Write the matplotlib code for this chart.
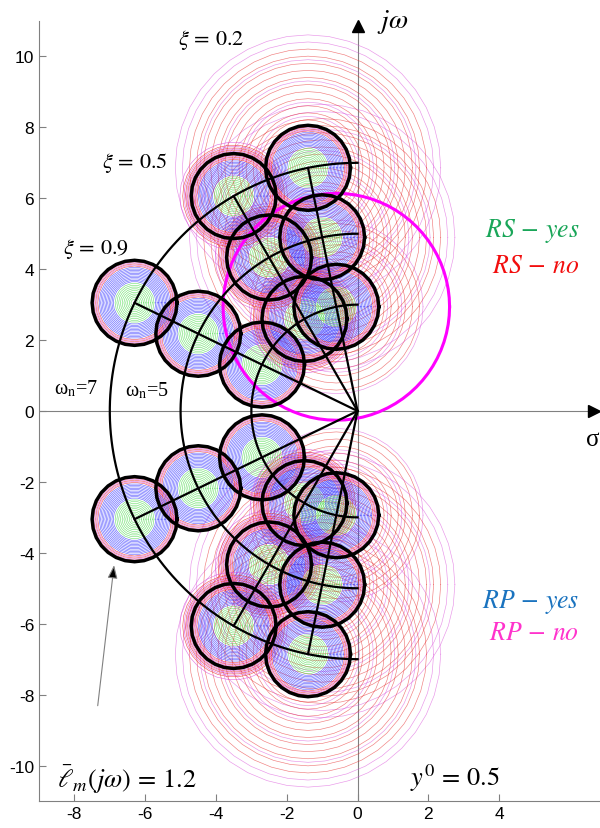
import numpy as np
import matplotlib.pyplot as plt

plt.rcParams['font.family'] = ['Liberation Sans', 'DejaVu Sans']
plt.rcParams['mathtext.fontset'] = 'stix'
plt.rcParams['axes.unicode_minus'] = False

# pole grid: damping ratios and natural frequencies
damping = [0.9, 0.5, 0.2]
natural_freq = [3, 5, 7]
ell_m = 1.2      # radius of the uncertainty disc around each pole
rp_radius = 3.2  # performance boundary around the xi=0.2, wn=3 pole

# nested circle radii drawn around every pole
green_radii = [0.10, 0.15, 0.20, 0.25, 0.30, 0.35, 0.40, 0.45, 0.50, 0.55]
blue_radii = [0.60, 0.64, 0.68, 0.72, 0.76, 0.80, 0.84, 0.88, 0.92, 0.96, 1.00]
edge_red = [1.04, 1.10, 1.16]
edge_magenta = [1.07, 1.13, 1.19]
# xi = 0.5: dense ring just outside the disc
ring_red = [1.24, 1.30, 1.36, 1.44]
ring_magenta = [1.27, 1.33, 1.40, 1.52]
# xi = 0.2: sparse wide circles
wide_red = [1.35, 1.55, 1.75, 1.95, 2.15, 2.35, 2.55, 2.75, 2.95, 3.15, 3.35]
wide_magenta = [1.45, 1.85, 2.45, 3.05, 3.55, 3.75]
wide_limit = {3: 2.5, 5: 3.8, 7: 3.75}

xticks = [-8, -6, -4, -2, 0, 2, 4]
yticks = [-10, -8, -6, -4, -2, 0, 2, 4, 6, 8, 10]

c_green = (0.3, 0.85, 0.3)
c_blue = (0.2, 0.2, 1.0)
c_red = (0.9, 0.15, 0.15)
c_mag = (0.85, 0.3, 0.85)


def circle(ax, cx, cy, r, n=24, **kw):
    t = np.linspace(0, 2 * np.pi, n + 1)
    ax.plot(cx + r * np.cos(t), cy + r * np.sin(t), **kw)


def pole(xi, wn, sign):
    return -xi * wn, sign * wn * np.sqrt(1 - xi ** 2)


fig = plt.figure(figsize=(6, 8.29), dpi=100)
ax = fig.add_axes([39 / 600, 27 / 829, 561 / 600, 780 / 829])

thin = dict(lw=0.45, alpha=0.75, zorder=2)
wide = dict(lw=0.45, alpha=0.6, zorder=1.5)
for sign in (1, -1):
    for xi in damping:
        for wn in natural_freq:
            cx, cy = pole(xi, wn, sign)
            if xi == 0.2:
                for r in wide_red:
                    if r <= wide_limit[wn]:
                        circle(ax, cx, cy, r, n=40, color=c_red, **wide)
                for r in wide_magenta:
                    if r <= wide_limit[wn]:
                        circle(ax, cx, cy, r, n=40, color=c_mag, **wide)
            if xi == 0.5:
                for r in ring_red:
                    circle(ax, cx, cy, r, n=30, color=c_red, **thin)
                for r in ring_magenta:
                    circle(ax, cx, cy, r, n=30, color=c_mag, **thin)
            for r in green_radii:
                circle(ax, cx, cy, r, n=18, color=c_green, **thin)
            for r in blue_radii:
                circle(ax, cx, cy, r, n=22, color=c_blue, **thin)
            for r in edge_red:
                circle(ax, cx, cy, r, n=24, color=c_red, **thin)
            for r in edge_magenta:
                circle(ax, cx, cy, r, n=24, color=c_mag, **thin)

# robust performance boundary
bx, by = pole(0.2, 3, 1)
circle(ax, bx, by, rp_radius, n=80, color=(1.0, 0.0, 1.0), lw=2.2, zorder=4)

# uncertainty discs
for sign in (1, -1):
    for xi in damping:
        for wn in natural_freq:
            cx, cy = pole(xi, wn, sign)
            circle(ax, cx, cy, ell_m, n=28, color='black', lw=2.5, zorder=5)

# constant natural frequency arcs and constant damping rays
for wn in natural_freq:
    t = np.linspace(np.pi / 2, 3 * np.pi / 2, 120)
    ax.plot(wn * np.cos(t), wn * np.sin(t), color='black', lw=1.6, zorder=5)
for sign in (1, -1):
    for xi in damping:
        px, py = pole(xi, max(natural_freq), sign)
        ax.plot([0, px], [0, py], color='black', lw=1.6, zorder=5)

# axes through the origin
ax.axhline(0, color='gray', lw=0.8, zorder=1)
ax.axvline(0, color='gray', lw=0.8, zorder=1)
ax.plot([6.68], [0], marker='>', color='black', ms=8, clip_on=False, zorder=6)
ax.plot([0], [10.85], marker='^', color='black', ms=8, clip_on=False, zorder=6)

ax.set_xlim(-9, 6.85)
ax.set_ylim(-11, 11)
ax.set_xticks(xticks)
ax.set_yticks(yticks)
ax.tick_params(direction='in', color='gray', length=5, labelsize=12.5)
for side in ('top', 'right'):
    ax.spines[side].set_visible(False)
for side in ('left', 'bottom'):
    ax.spines[side].set_color('gray')
    ax.spines[side].set_linewidth(0.8)

# labels
ax.text(-4.13, 10.48, r'$\xi\,=\,0.2$', fontsize=16, ha='center', va='center')
ax.text(-6.28, 7.03, r'$\xi\,=\,0.5$', fontsize=16, ha='center', va='center')
ax.text(-7.38, 4.6, r'$\xi\,=\,0.9$', fontsize=16, ha='center', va='center')
ax.text(-7.95, 0.65, 'ω$_\\mathrm{n}$=7', family='Liberation Serif', fontsize=14.5,
        ha='center', va='center')
ax.text(-5.94, 0.59, 'ω$_\\mathrm{n}$=5', family='Liberation Serif', fontsize=14.5,
        ha='center', va='center')
ax.text(1.0, 11.0, r'$j\omega$', fontsize=20, ha='center', va='center', clip_on=False)
ax.text(6.65, -0.8, 'σ', family='Liberation Serif', fontsize=18, ha='center', va='center')

ax.text(6.27, 5.11, r'$RS\,-\,yes$', fontsize=18.5, color=(0.1, 0.65, 0.35), ha='right', va='center')
ax.text(6.27, 4.12, r'$RS\,-\,no$', fontsize=18.5, color=(0.95, 0.05, 0.05), ha='right', va='center')
ax.text(6.27, -5.37, r'$RP\,-\,yes$', fontsize=18.5, color=(0.1, 0.45, 0.75), ha='right', va='center')
ax.text(6.27, -6.24, r'$RP\,-\,no$', fontsize=18.5, color=(1.0, 0.2, 0.8), ha='right', va='center')

ax.text(-8.5, -10.37, r'$\bar{\ell}_m(j\omega)\,=\,1.2$', fontsize=19, ha='left', va='center')
ax.text(2.76, -10.34, r'$y^0\,=\,0.5$', fontsize=19, ha='center', va='center')

ax.annotate('', xy=(-6.87, -4.27), xytext=(-7.35, -8.39),
            arrowprops=dict(arrowstyle='-|>,head_length=0.8,head_width=0.3',
                            facecolor='black', edgecolor='gray', lw=0.8))

fig.savefig('out.png', dpi=100)
